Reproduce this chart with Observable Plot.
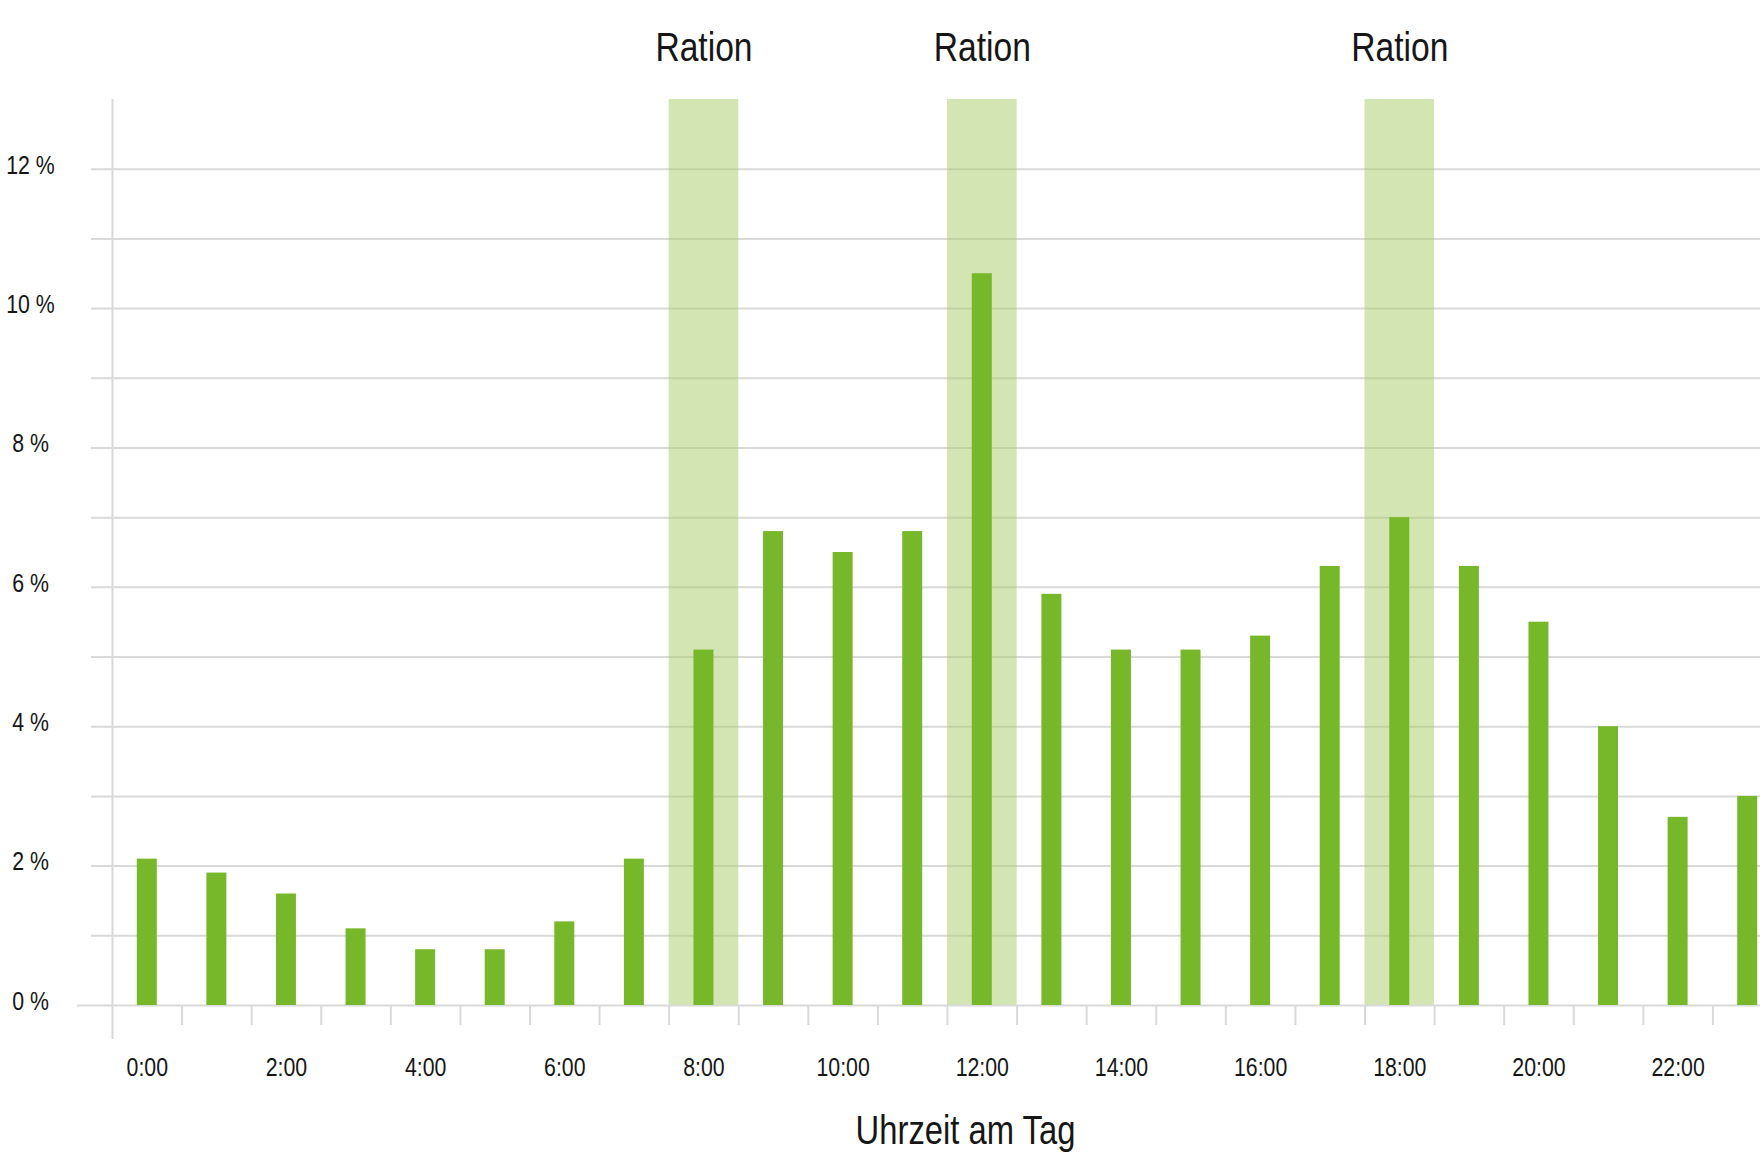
<!DOCTYPE html>
<html>
<head>
<meta charset="utf-8">
<script src="https://cdn.jsdelivr.net/npm/d3@7"></script>
<script src="https://cdn.jsdelivr.net/npm/@observablehq/plot@0.6"></script>
<style>
  html, body { margin: 0; padding: 0; background: #fff; overflow: hidden; }
  #chart { width: 1760px; height: 1174px; overflow: hidden; }
  #chart svg { max-width: none; }
</style>
</head>
<body>
<div id="chart"></div>
<script>
// Hour categories (0:00 … 23:00)
const hours = [0, 1, 2, 3, 4, 5, 6, 7, 8, 9, 10, 11, 12, 13, 14, 15, 16, 17, 18, 19, 20, 21, 22, 23];
// Share of activity per hour, in %
const values = [2.1, 1.9, 1.6, 1.1, 0.8, 0.8, 1.2, 2.1, 5.1, 6.8, 6.5, 6.8, 10.5, 5.9, 5.1, 5.1, 5.3, 6.3, 7.0, 6.3, 5.5, 4.0, 2.7, 3.0];
// Feeding times ("Ration")
const rationHours = [8, 12, 18];
const rationLabel = "Ration";
// Tick labels
const xTickHours = [0, 2, 4, 6, 8, 10, 12, 14, 16, 18, 20, 22];
const yTickValues = [0, 2, 4, 6, 8, 10, 12];
const gridValues = [1, 2, 3, 4, 5, 6, 7, 8, 9, 10, 11, 12];
const yMax = 13;
const xTitle = "Uhrzeit am Tag";

const data = hours.map((h, i) => ({hour: h, value: values[i]}));

const width = 1760, height = 1174;
const marginLeft = 112, marginRight = -22, marginTop = 99, marginBottom = 169;
const bw = (width - marginLeft - marginRight) / hours.length;

const font = '"Liberation Sans", Arial, sans-serif';
const narrow = 0.82; // condensed look of the original typeface
const grid = "#d9d9d9";
const ink = "#161616";

const chart = Plot.plot({
  width, height, marginLeft, marginRight, marginTop, marginBottom,
  style: {fontFamily: font, background: "#fff", color: ink, overflow: "hidden"},
  x: {type: "band", domain: hours, padding: 0, round: false, axis: null},
  y: {domain: [0, yMax], axis: null},
  marks: [
    // horizontal gridlines
    Plot.ruleY(gridValues, {stroke: grid, strokeWidth: 2, insetLeft: -21}),
    // vertical axis line
    Plot.ruleX([hours[0]], {stroke: grid, strokeWidth: 2, dx: -bw / 2, insetBottom: -34}),
    // category separators below baseline
    Plot.ruleX(hours.slice(1), {stroke: grid, strokeWidth: 2, dx: -bw / 2, insetTop: height - marginTop - marginBottom, insetBottom: -20}),
    // feeding-time highlight bands
    Plot.barY(rationHours, {x: d => d, y1: 0, y2: yMax, fill: "#a6cb66", fillOpacity: 0.5}),
    // baseline
    Plot.ruleY([0], {stroke: grid, strokeWidth: 2, insetLeft: -35}),
    // bars
    Plot.barY(data, {x: "hour", y: "value", fill: "#76b82a", insetLeft: 24.8, insetRight: 24.8}),
    // y tick labels
    Plot.text(yTickValues, {y: d => d, text: d => `${d} %`, frameAnchor: "left", lineAnchor: "middle", dx: -82, dy: -4, textAnchor: "middle", fontSize: 26, fill: ink}),
    // x tick labels
    Plot.text(xTickHours, {x: d => d, text: d => `${d}:00`, frameAnchor: "bottom", lineAnchor: "middle", dy: 62, fontSize: 26, fill: ink}),
    // Ration labels
    Plot.text(rationHours, {x: d => d, text: () => rationLabel, frameAnchor: "top", lineAnchor: "middle", dy: -52, fontSize: 41, fill: ink}),
    // x title
    Plot.text([xTitle], {text: d => d, frameAnchor: "bottom", lineAnchor: "middle", dx: 18, dy: 126, fontSize: 40, fill: ink})
  ]
});

// give the text the narrow proportions of the original condensed typeface
d3.select(chart).selectAll("text").each(function () {
  const t = this.getAttribute("transform") || "";
  this.setAttribute("transform", `${t} scale(${narrow},1)`);
});

document.getElementById("chart").append(chart);
</script>
</body>
</html>
